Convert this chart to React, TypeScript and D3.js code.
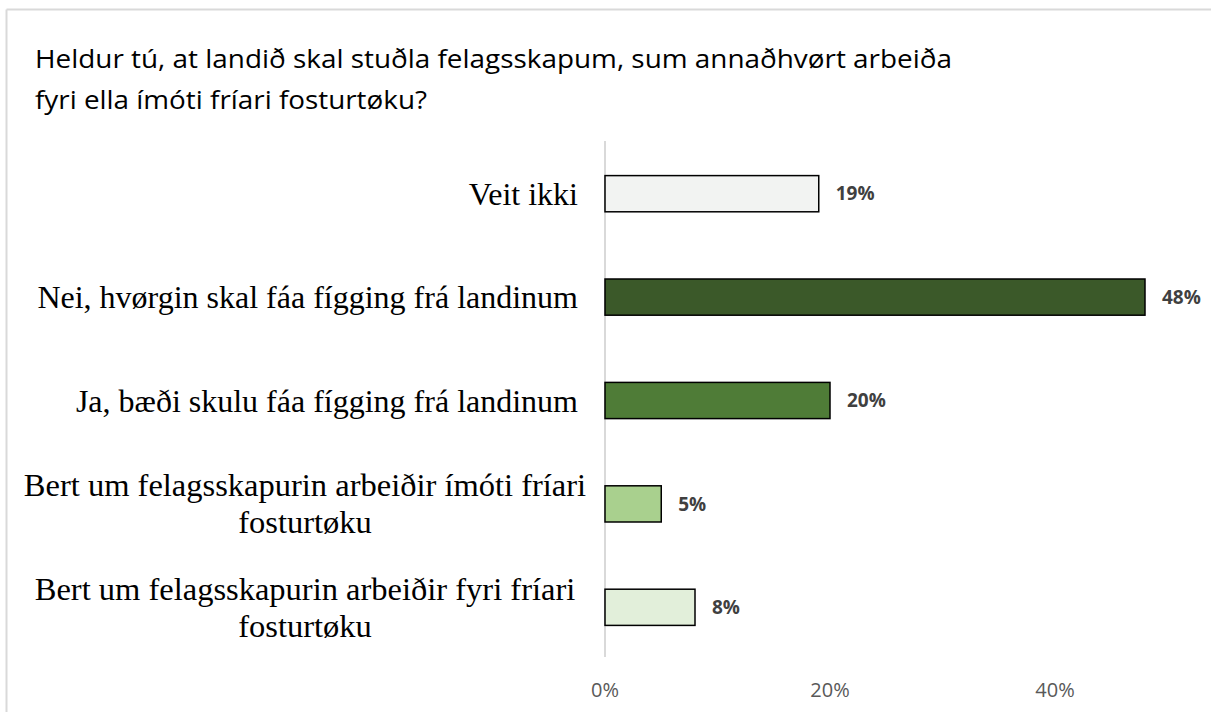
import React, { useEffect } from "react";
import { scaleLinear, scaleBand } from "d3";

// categories from top to bottom, each label split in lines
const categories = [
  ["Veit ikki"],
  ["Nei, hvørgin skal fáa fígging frá landinum"],
  ["Ja, bæði skulu fáa fígging frá landinum"],
  ["Bert um felagsskapurin arbeiðir ímóti fríari", "fosturtøku"],
  ["Bert um felagsskapurin arbeiðir fyri fríari", "fosturtøku"],
];
const values = [19, 48, 20, 5, 8];
const barColors = ["#f2f3f2", "#3b5929", "#4f7c37", "#a9d08e", "#e2efda"];
const ticks = [0, 20, 40];
const titleLines = [
  "Heldur tú, at landið skal stuðla felagsskapum, sum annaðhvørt arbeiða",
  "fyri ella ímóti fríari fosturtøku?",
];

const W = 1211;
const H = 712;

const App = () => {
  // no scrollbars, the chart fills the window
  useEffect(() => {
    document.documentElement.style.overflow = "hidden";
    document.body.style.margin = "0";
  }, []);

  const x = scaleLinear().domain([0, 20]).range([605, 830]);
  const y = scaleBand<number>()
    .domain(values.map((_, i) => i))
    .range([142, 659])
    .paddingInner(0.65)
    .paddingOuter(0.325);

  const sans = "'Open Sans', 'DejaVu Sans', sans-serif";
  const serif = "'Liberation Serif', 'Times New Roman', serif";

  return (
    <svg
      width={W}
      height={H}
      style={{ position: "fixed", top: 0, left: 0, display: "block", background: "#fff" }}
    >
      {/* chart frame (only top and left edges are in view) */}
      <line x1={6.5} x2={W} y1={9.5} y2={9.5} stroke="#d9d9d9" strokeWidth={2} />
      <line x1={6.5} x2={6.5} y1={9.5} y2={H} stroke="#d9d9d9" strokeWidth={2} />

      {/* title */}
      <g fontFamily={sans} fontSize={25} fill="#000">
        <text x={35} y={68} textLength={917} lengthAdjust="spacingAndGlyphs">{titleLines[0]}</text>
        <text x={35} y={109} textLength={392} lengthAdjust="spacingAndGlyphs">{titleLines[1]}</text>
      </g>

      {/* vertical axis line */}
      <line x1={x(0)} x2={x(0)} y1={141} y2={657} stroke="#d9d9d9" strokeWidth={2} />

      {/* bars */}
      {values.map((v, i) => (
        <rect
          key={"b" + i}
          x={x(0)}
          y={y(i)}
          width={x(v) - x(0)}
          height={y.bandwidth()}
          fill={barColors[i]}
          stroke="#000"
          strokeWidth={1.5}
        />
      ))}

      {/* value labels */}
      {values.map((v, i) => (
        <text
          key={"v" + i}
          x={x(v) + 17}
          y={(y(i) as number) + y.bandwidth() / 2}
          dy="0.35em"
          fontFamily={sans}
          fontWeight="bold"
          fontSize={19}
          fill="#404040"
        >
          {v + "%"}
        </text>
      ))}

      {/* category labels */}
      {categories.map((lines, i) => {
        const cy = (y(i) as number) + y.bandwidth() / 2;
        if (lines.length === 1) {
          return (
            <text key={"c" + i} x={578} y={cy} dy="0.35em" textAnchor="end" fontFamily={serif} fontSize={32} fill="#000">
              {lines[0]}
            </text>
          );
        }
        return (
          <text key={"c" + i} x={305} y={cy - 19} textAnchor="middle" fontFamily={serif} fontSize={32.5} fill="#000">
            {lines.map((l, j) => (
              <tspan key={j} x={305} dy={j === 0 ? "0.35em" : 37}>{l}</tspan>
            ))}
          </text>
        );
      })}

      {/* x tick labels */}
      {ticks.map((t) => (
        <text key={"t" + t} x={x(t)} y={690} dy="0.35em" textAnchor="middle" fontFamily={sans} fontSize={20} fill="#595959">
          {t + "%"}
        </text>
      ))}
    </svg>
  );
};

export default App;
